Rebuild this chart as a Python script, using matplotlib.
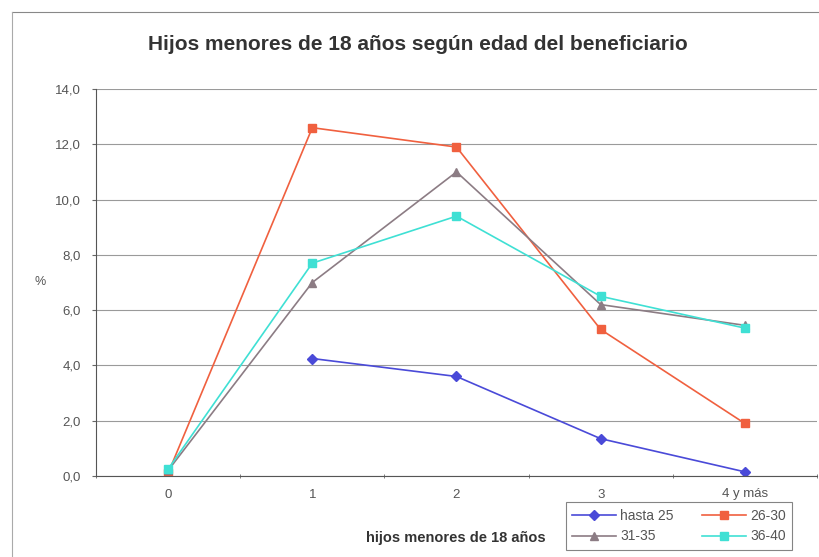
import numpy as np
import matplotlib
matplotlib.use("Agg")
import matplotlib.pyplot as plt
from matplotlib.ticker import FuncFormatter

# categories on the x axis
categorias = ["0", "1", "2", "3", "4 y más"]

# series (% of beneficiaries)
hasta_25 = [np.nan, 4.25, 3.6, 1.35, 0.15]
de_26_30 = [0.1, 12.6, 11.9, 5.3, 1.9]
de_31_35 = [0.2, 7.0, 11.0, 6.2, 5.45]
de_36_40 = [0.25, 7.7, 9.4, 6.5, 5.35]

y_ticks = [0, 2, 4, 6, 8, 10, 12, 14]

plt.rcParams["font.family"] = ["Liberation Sans", "DejaVu Sans"]

fig = plt.figure(figsize=(8.2, 5.57), dpi=100)
ax = fig.add_axes([96 / 820, 1 - 476 / 557, (817 - 96) / 820, (476 - 89) / 557])

x = np.arange(len(categorias))
l1, = ax.plot(x, hasta_25, color="#4a4ad8", marker="D", markersize=5, lw=1.2, label="hasta 25")
l2, = ax.plot(x, de_26_30, color="#f0603f", marker="s", markersize=6, lw=1.2, label="26-30")
l3, = ax.plot(x, de_31_35, color="#8c7c84", marker="^", markersize=6, lw=1.2, label="31-35")
l4, = ax.plot(x, de_36_40, color="#3fe0d4", marker="s", markersize=6, lw=1.2, label="36-40")

ax.set_xlim(-0.5, 4.5)
ax.set_ylim(0, 14)
ax.set_yticks(y_ticks)
ax.yaxis.set_major_formatter(FuncFormatter(lambda v, p: f"{v:.1f}".replace(".", ",")))
ax.set_xticks(x)
ax.set_xticklabels(categorias)
ax.set_xticks(np.arange(-0.5, 4.6, 1), minor=True)
ax.tick_params(axis="x", which="major", length=0, pad=9, labelsize=9.5, labelcolor="#555555")
ax.tick_params(axis="x", which="minor", length=3, color="#666666", direction="inout")
ax.tick_params(axis="y", length=3, color="#666666", pad=8, labelsize=9.5, labelcolor="#555555")

ax.grid(axis="y", color="#9a9a9a", lw=0.8)
ax.set_axisbelow(True)
for s in ["top", "right"]:
    ax.spines[s].set_visible(False)
ax.spines["left"].set_color("#555555")
ax.spines["bottom"].set_color("#555555")

fig.text(418 / 820, 1 - 45 / 557, "Hijos menores de 18 años según edad del beneficiario",
         ha="center", va="center", fontsize=15, fontweight="bold", color="#333333")
fig.text(40 / 820, 1 - 282 / 557, "%", ha="center", va="center", fontsize=9, color="#555555")
fig.text(456 / 820, 1 - 538 / 557, "hijos menores de 18 años", ha="center", va="center",
         fontsize=10.5, fontweight="bold", color="#333333")

# outer chart border (only top and left visible in the scan)
fig.add_artist(plt.Line2D([12 / 820, 1], [1 - 12 / 557] * 2, color="#888888", lw=0.8))
fig.add_artist(plt.Line2D([12 / 820] * 2, [0, 1 - 12 / 557], color="#aaaaaa", lw=0.8))

# rows: hasta 25 / 26-30, then 31-35 / 36-40 (legend fills column by column)
leg = fig.legend([l1, l3, l2, l4], ["hasta 25", "31-35", "26-30", "36-40"],
                 loc="center", bbox_to_anchor=(679 / 820, 1 - 526 / 557), ncol=2,
                 fontsize=10, frameon=True, fancybox=False, edgecolor="#666666",
                 handlelength=3.2, columnspacing=2.0, borderpad=0.45, labelspacing=0.5,
                 handletextpad=0.3)
leg.get_frame().set_linewidth(0.8)
for t in leg.get_texts():
    t.set_color("#555555")

fig.savefig("out.png", dpi=100, facecolor="white")
